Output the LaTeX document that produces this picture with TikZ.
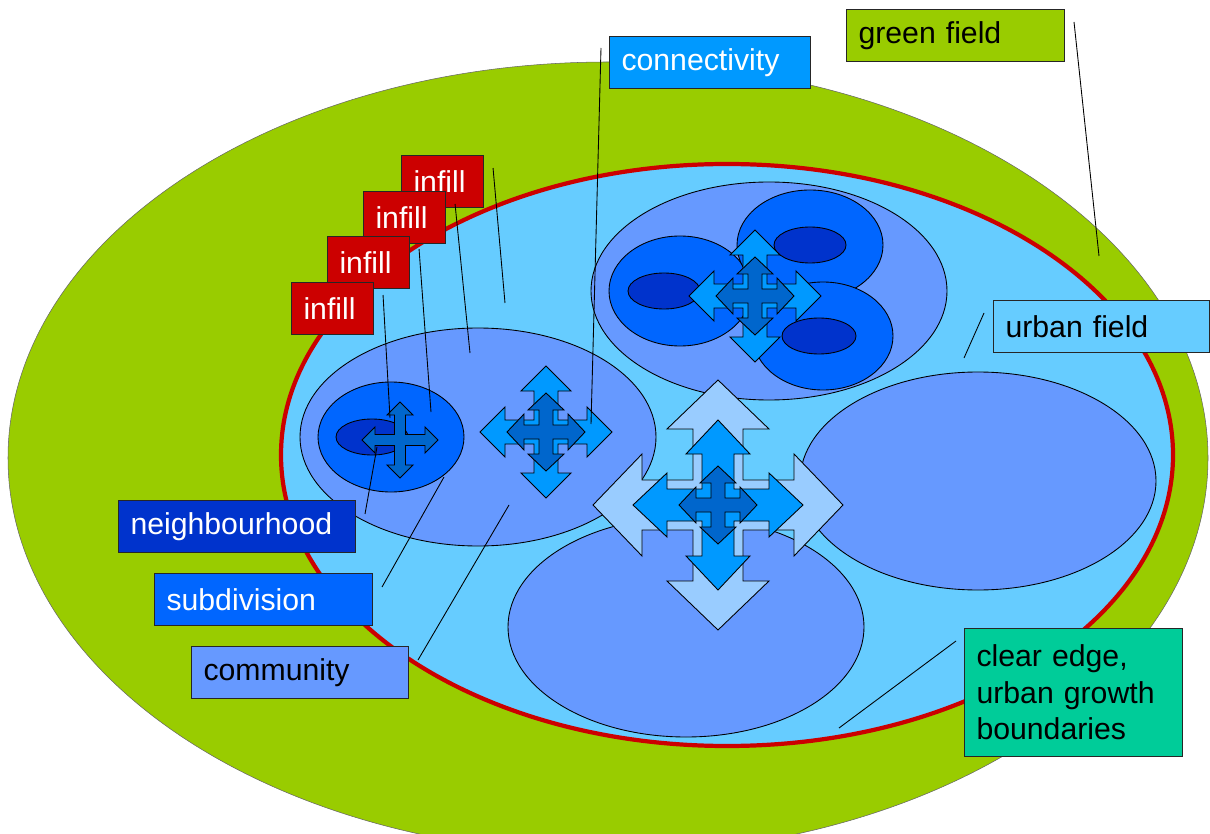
\documentclass[tikz,border=0pt]{standalone}
\usepackage{fontspec}
\setmainfont{Liberation Sans}
\definecolor{greenfield}{HTML}{99CC00}
\definecolor{urbanfield}{HTML}{66CCFF}
\definecolor{edgered}{HTML}{CC0000}
\definecolor{community}{HTML}{6699FF}
\definecolor{subdivision}{HTML}{0066FF}
\definecolor{neighbourhood}{HTML}{0033CC}
\definecolor{connect}{HTML}{0099FF}
\definecolor{arrowlight}{HTML}{99CCFF}
\definecolor{arrowdark}{HTML}{0066CC}
\definecolor{clearedge}{HTML}{00CC99}
\tikzstyle{zone}     = [draw, line width=0.5pt]
\tikzstyle{lead}     = [draw, line width=0.5pt]
\tikzstyle{labelbox} = [draw=black!85, line width=0.6pt, anchor=north west, inner xsep=0.24cm,
                        minimum height=1.04cm, align=left, font=\fontsize{17.2}{20.8}\selectfont]
% four-way arrow: centre, tip, head base, head half width, shaft half width, colour
\newcommand{\crossarrow}[6]{%
  \filldraw [fill=#6, line width=0.5pt, shift={#1}]
    (0,-#2) -- (#4,-#3) -- (#5,-#3) -- (#5,-#5) -- (#3,-#5) -- (#3,-#4) -- (#2,0)
    -- (#3,#4) -- (#3,#5) -- (#5,#5) -- (#5,#3) -- (#4,#3) -- (0,#2)
    -- (-#4,#3) -- (-#5,#3) -- (-#5,#5) -- (-#3,#5) -- (-#3,#4) -- (-#2,0)
    -- (-#3,-#4) -- (-#3,-#5) -- (-#5,-#5) -- (-#5,-#3) -- (-#4,-#3) -- cycle;}

\begin{document}
\begin{tikzpicture}[x=0.02cm, y=-0.02cm]
\useasboundingbox (0,0) rectangle (1210,834);
\clip (0,0) rectangle (1210,834);

% fields
\filldraw [fill=greenfield, draw=black!60, line width=0.3pt] (608,458) ellipse [x radius=600, y radius=396];
\filldraw [fill=urbanfield, draw=edgered, line width=2.4pt] (727,455) ellipse [x radius=446, y radius=291];

% communities
\filldraw [zone, fill=community] (478,437) ellipse [x radius=178, y radius=109];
\filldraw [zone, fill=community] (769,291) ellipse [x radius=178, y radius=109];
\filldraw [zone, fill=community] (978,481) ellipse [x radius=178, y radius=109];
\filldraw [zone, fill=community] (686,627) ellipse [x radius=178, y radius=110];

% subdivisions and neighbourhoods
\filldraw [zone, fill=subdivision]   (391,437) ellipse [x radius=73, y radius=55];
\filldraw [zone, fill=neighbourhood] (372,437) ellipse [x radius=36, y radius=18];
\filldraw [zone, fill=subdivision]   (680,291) ellipse [x radius=71, y radius=55];
\filldraw [zone, fill=neighbourhood] (664,291) ellipse [x radius=36, y radius=18];
\filldraw [zone, fill=subdivision]   (810,245) ellipse [x radius=73, y radius=55];
\filldraw [zone, fill=neighbourhood] (810,245) ellipse [x radius=36, y radius=18];
\filldraw [zone, fill=subdivision]   (823,336) ellipse [x radius=70, y radius=54];
\filldraw [zone, fill=neighbourhood] (819,336) ellipse [x radius=37, y radius=18];

% connectivity arrows
\crossarrow{(718,505)}{125}{76}{51}{25}{arrowlight}
\crossarrow{(718,505)}{85}{51}{32}{16}{connect}
\crossarrow{(718,505)}{39}{22}{18}{7}{arrowdark}
\crossarrow{(546,432)}{66}{41}{25}{12}{connect}
\crossarrow{(546,432)}{39}{22}{18}{7}{arrowdark}
\crossarrow{(755,296)}{66}{41}{25}{12}{connect}
\crossarrow{(755,296)}{39}{22}{18}{7}{arrowdark}
\crossarrow{(400,440)}{38}{25}{13}{5.5}{arrowdark}

% labels
\node [labelbox, fill=greenfield, text width=3.88cm]                at (846,9)   (green)         {green field};
\node [labelbox, fill=connect, text=white, text width=3.54cm]       at (609,36)  (connectivity)  {connectivity};
\node [labelbox, fill=urbanfield, text width=3.84cm]                at (993,300) (urban)         {urban field};
\node [labelbox, fill=edgered, text=white, text width=1.16cm]       at (401,155) (infill1)       {infill};
\node [labelbox, fill=edgered, text=white, text width=1.16cm]       at (363,191) (infill2)       {infill};
\node [labelbox, fill=edgered, text=white, text width=1.16cm]       at (327,236) (infill3)       {infill};
\node [labelbox, fill=edgered, text=white, text width=1.16cm]       at (291,282) (infill4)       {infill};
\node [labelbox, fill=neighbourhood, text=white, text width=4.26cm] at (118,500) (neighbourhood) {neighbourhood};
\node [labelbox, fill=subdivision, text=white, text width=3.88cm]   at (154,573) (subdivision)   {subdivision};
\node [labelbox, fill=community, text width=3.86cm]                 at (191,646) (community)     {community};
\node [labelbox, fill=clearedge, text width=3.88cm, minimum height=2.56cm]
                                                                    at (964,628) (clear)         {clear edge,\\ urban growth\\ boundaries};

% leader ends
\coordinate (green-end)         at (1099,256);
\coordinate (connectivity-end)  at (591,424);
\coordinate (urban-end)         at (964,358);
\coordinate (infill1-end)       at (505,303);
\coordinate (infill2-end)       at (470,353);
\coordinate (infill3-end)       at (431,412);
\coordinate (infill4-end)       at (390,418);
\coordinate (neighbourhood-end) at (377,447);
\coordinate (subdivision-end)   at (444,477);
\coordinate (community-end)     at (509,505);
\coordinate (clear-end)         at (839,728);

% leader lines
\path [lead] ([shift={(9,13)}]green.north east)          edge (green-end)
             ([shift={(-8,12)}]connectivity.north west)  edge (connectivity-end)
             ([shift={(-9,13)}]urban.north west)         edge (urban-end)
             ([shift={(9,13)}]infill1.north east)        edge (infill1-end)
             ([shift={(9,13)}]infill2.north east)        edge (infill2-end)
             ([shift={(9,13)}]infill3.north east)        edge (infill3-end)
             ([shift={(9,13)}]infill4.north east)        edge (infill4-end)
             ([shift={(9,14)}]neighbourhood.north east)  edge (neighbourhood-end)
             ([shift={(9,14)}]subdivision.north east)    edge (subdivision-end)
             ([shift={(9,14)}]community.north east)      edge (community-end)
             ([shift={(-8,13)}]clear.north west)         edge (clear-end);

\end{tikzpicture}
\end{document}
